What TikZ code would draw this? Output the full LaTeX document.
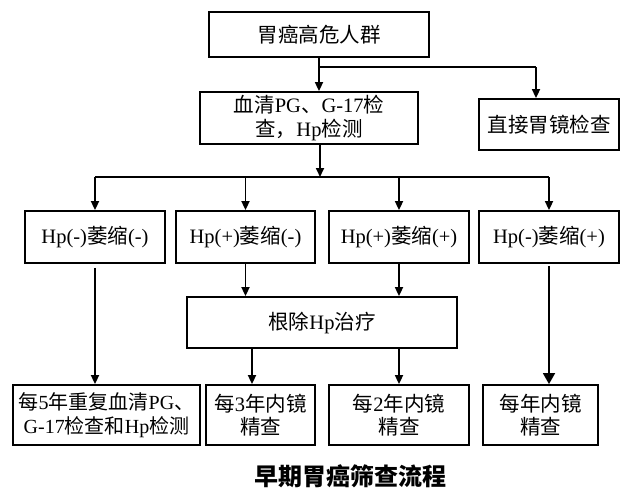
\documentclass[tikz,border=0pt]{standalone}
\usepackage{fontspec}
\setmainfont{Liberation Serif}
\newfontfamily\cjk{Noto Sans CJK SC}
\usetikzlibrary{arrows.meta,calc}
\tikzset{
  box/.style={draw, line width=1.8pt, inner sep=0pt, align=center,
    font=\fontsize{20.5}{23.5}\selectfont},
  conn/.style={line width=1.7pt},
  arr/.style={line width=1.7pt, -{Triangle[length=9pt,width=8pt]}},
  bigarr/.style={line width=1.7pt, -{Triangle[length=11pt,width=12pt]}},
}
\begin{document}
\begin{tikzpicture}[x=1pt,y=-1pt]
\useasboundingbox (0,0) rectangle (629,498);
% nodes
\node[box, minimum width=220pt, minimum height=45pt] (top) at (319,34.5) {{\cjk 胃癌高危人群}};
\node[box, minimum width=218pt, minimum height=52pt] (mid) at (309,118) {{\cjk 血清}PG{\cjk 、}G-17{\cjk 检}\\{\cjk 查，}Hp{\cjk 检测}};
\node[box, minimum width=140pt, minimum height=51pt] (direct) at (549,124.5) {{\cjk 直接胃镜检查}};
\node[box, minimum width=140pt, minimum height=52pt] (r1) at (95,237) {Hp(-){\cjk 萎缩}(-)};
\node[box, minimum width=139pt, minimum height=52pt] (r2) at (245.5,237) {Hp(+){\cjk 萎缩}(-)};
\node[box, minimum width=140pt, minimum height=52pt] (r3) at (399,237) {Hp(+){\cjk 萎缩}(+)};
\node[box, minimum width=140pt, minimum height=52pt] (r4) at (549,237) {Hp(-){\cjk 萎缩}(+)};
\node[box, minimum width=270pt, minimum height=51pt] (erad) at (322,322.5) {{\cjk 根除}Hp{\cjk 治疗}};
\node[box, minimum width=187pt, minimum height=60pt, font=\fontsize{20}{23.5}\selectfont] (b1) at (106.5,415) {{\cjk 每}5{\cjk 年重复血清}PG{\cjk 、}\\G-17{\cjk 检查和}Hp{\cjk 检测}};
\node[box, minimum width=109pt, minimum height=60pt] (b2) at (260.5,415) {{\cjk 每}3{\cjk 年内镜}\\{\cjk 精查}};
\node[box, minimum width=140pt, minimum height=60pt] (b3) at (399,415) {{\cjk 每}2{\cjk 年内镜}\\{\cjk 精查}};
\node[box, minimum width=115pt, minimum height=60pt] (b4) at (540.5,415) {{\cjk 每年内镜}\\{\cjk 精查}};
\node[font=\cjk\bfseries\fontsize{24}{27}\selectfont] (cap) at (350,476) {早期胃癌筛查流程};
% helper coordinates
\coordinate (j1) at (319,67);
\coordinate (ja) at (536,67);
\coordinate (j2) at (320,177);
\coordinate (eo2) at (252,0);
% connectors
\draw[conn] (top.south) -- (j1);
\draw[arr] (j1) -- (j1 |- mid.north);
\draw[conn] (j1) -- (ja);
\draw[arr] (ja) -- (ja |- direct.north);
\draw[arr] (j2 |- mid.south) -- (j2);
\draw[conn] (r1.north |- j2) -- (r4.north |- j2);
\draw[arr] (r1.north |- j2) -- (r1.north);
\draw[arr] (r2.north |- j2) -- (r2.north);
\draw[arr] (r3.north |- j2) -- (r3.north);
\draw[arr] (r4.north |- j2) -- (r4.north);
\draw[arr] ([yshift=-4pt]r1.south) -- (r1.south |- b1.north);
\draw[arr] (r2.south) -- (r2.south |- erad.north);
\draw[arr] (r3.south) -- (r3.south |- erad.north);
\draw[arr] (eo2 |- erad.south) -- (eo2 |- b2.north);
\draw[arr] (b3.north |- erad.south) -- (b3.north);
\draw[bigarr] ([yshift=-2pt]r4.south) -- (r4.south |- b4.north);
\end{tikzpicture}
\end{document}
